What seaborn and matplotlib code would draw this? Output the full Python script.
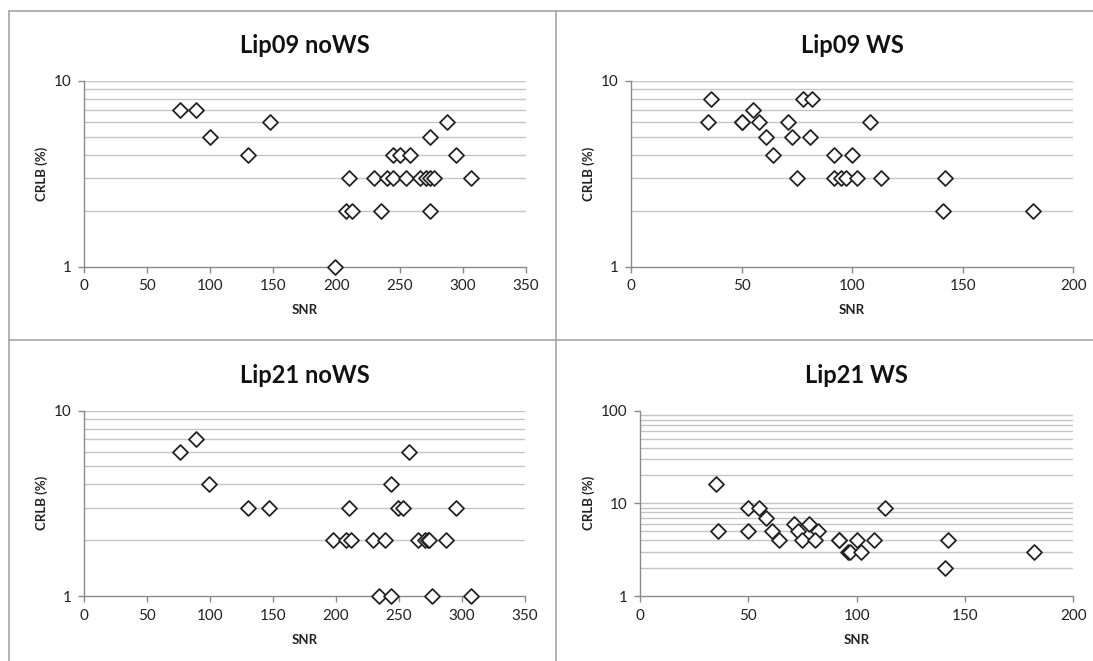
import numpy as np
import pandas as pd
import matplotlib
matplotlib.use('Agg')
import matplotlib.pyplot as plt
import matplotlib.ticker as mticker
from matplotlib.lines import Line2D
import seaborn as sns

# Lip09 noWS
lip09_nows_snr = [76, 89, 100, 130, 147, 199, 208, 212, 235, 274,
                  210, 230, 240, 245, 255, 266, 271, 274, 277, 307,
                  245, 250, 258, 295, 274, 288]
lip09_nows_crlb = [7, 7, 5, 4, 6, 1, 2, 2, 2, 2,
                   3, 3, 3, 3, 3, 3, 3, 3, 3, 3,
                   4, 4, 4, 4, 5, 6]

# Lip09 WS
lip09_ws_snr = [36, 78, 82, 55, 35, 50, 50, 58, 71, 108, 61, 73, 81,
                64, 92, 100, 75, 92, 95, 97, 102, 113, 142, 141, 182]
lip09_ws_crlb = [8, 8, 8, 7, 6, 6, 6, 6, 6, 6, 5, 5, 5,
                 4, 4, 4, 3, 3, 3, 3, 3, 3, 3, 2, 2]

# Lip21 noWS
lip21_nows_snr = [76, 89, 99, 130, 147, 210, 249, 253, 295,
                  198, 208, 212, 229, 239, 265, 271, 273, 274, 287,
                  244, 258, 234, 244, 276, 307]
lip21_nows_crlb = [6, 7, 4, 3, 3, 3, 3, 3, 3,
                   2, 2, 2, 2, 2, 2, 2, 2, 2, 2,
                   4, 6, 1, 1, 1, 1]

# Lip21 WS
lip21_ws_snr = [35, 36, 50, 50, 55, 58, 61, 64, 71, 73, 75, 78, 82,
                81, 92, 92, 96, 97, 100, 102, 108, 113, 142, 141, 182]
lip21_ws_crlb = [16, 5, 9, 5, 9, 7, 5, 4, 6, 5, 4, 6, 5,
                 4, 4, 4, 3, 3, 4, 3, 4, 9, 4, 2, 3]

titles = ['Lip09 noWS', 'Lip09 WS', 'Lip21 noWS', 'Lip21 WS']
x_maxes = [350, 200, 350, 200]
y_maxes = [10, 10, 10, 100]

sns.set_theme(style='white')
plt.rcParams['font.family'] = ['Lato', 'DejaVu Sans']

W, H = 1093, 661
fig = plt.figure(figsize=(W / 100, H / 100), dpi=100)

# axes boxes in pixels: left, top, right, bottom
boxes = [
    (84, 80.7, 525.7, 266.7),
    (631, 80.7, 1073.3, 266.7),
    (84, 410.7, 525, 596),
    (640, 410.7, 1073.3, 596),
]

datasets = [
    (lip09_nows_snr, lip09_nows_crlb),
    (lip09_ws_snr, lip09_ws_crlb),
    (lip21_nows_snr, lip21_nows_crlb),
    (lip21_ws_snr, lip21_ws_crlb),
]

axis_gray = '#8a8a8a'
grid_gray = '#c4c4c4'

for (l, t, r, b), (snr, crlb), title, xmax, ymax in zip(boxes, datasets, titles, x_maxes, y_maxes):
    ax = fig.add_axes([l / W, 1 - b / H, (r - l) / W, (b - t) / H])
    df = pd.DataFrame({'SNR': snr, 'CRLB': crlb})

    ax.set_yscale('log')
    ax.set_ylim(1, ymax)
    ax.set_xlim(0, xmax)

    # horizontal gridlines at every log step
    grid_vals = [v for dec in (1, 10) for v in np.arange(1, 10) * dec if 1 < v <= ymax]
    for v in grid_vals:
        ax.axhline(v, color=grid_gray, lw=1.0, zorder=1)

    sns.scatterplot(data=df, x='SNR', y='CRLB', ax=ax, marker='D', s=58,
                    facecolor='white', edgecolor='#222222', linewidth=1.3,
                    zorder=4, legend=False, clip_on=False)

    ax.xaxis.set_major_locator(mticker.MultipleLocator(50))
    ax.yaxis.set_major_locator(mticker.LogLocator(base=10))
    ax.yaxis.set_major_formatter(mticker.FuncFormatter(lambda v, p: f'{v:g}'))
    ax.yaxis.set_minor_locator(mticker.NullLocator())

    for side in ['top', 'right']:
        ax.spines[side].set_visible(False)
    for side in ['left', 'bottom']:
        ax.spines[side].set_color(axis_gray)
        ax.spines[side].set_linewidth(1.0)

    ax.tick_params(axis='both', which='major', direction='out', length=4,
                   width=1, color=axis_gray, labelsize=11, labelcolor='#222222', pad=5)
    ax.tick_params(left=True, bottom=True)

    ax.set_title(title, fontsize=17, fontweight='bold', pad=20, color='#111111')
    ax.set_xlabel('SNR', fontsize=9.5, fontweight='bold', labelpad=8, color='#222222')
    ax.set_ylabel('CRLB (%)', fontsize=9.5, fontweight='bold', labelpad=4, color='#222222')
    ax.set_facecolor('white')

# chart box borders
border = '#a6a6a6'
for x0, y0, x1, y1 in [
    (9, 11, 1093, 11),
    (9, 11, 9, 661),
    (556, 11, 556, 661),
    (9, 340, 1093, 340),
]:
    fig.add_artist(Line2D([x0 / W, x1 / W], [1 - y0 / H, 1 - y1 / H],
                          color=border, lw=1.2))

fig.savefig('out.png', dpi=100, facecolor='white')
